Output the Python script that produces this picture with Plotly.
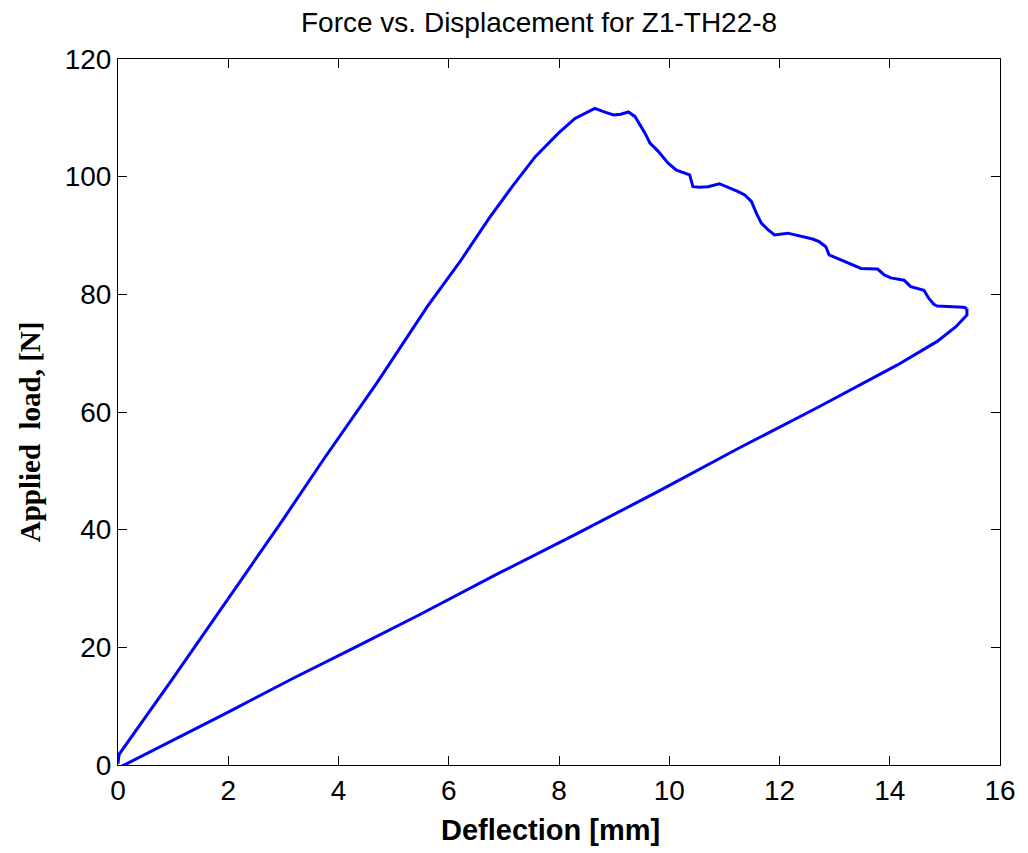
import plotly.graph_objects as go

# Loading branch (deflection mm, load N)
x_load = [0, 0.02, 0.97, 2.0, 3.0, 3.74, 4.7, 5.61, 6.2, 6.73, 7.15, 7.57, 7.99, 8.29, 8.47,
          8.65, 8.82, 8.99, 9.12, 9.26, 9.38, 9.47, 9.56, 9.65, 9.80, 9.98, 10.13, 10.37, 10.43,
          10.55, 10.70, 10.91, 11.12, 11.24, 11.37, 11.49, 11.58, 11.67, 11.79, 11.91, 12.15,
          12.39, 12.60, 12.72, 12.84, 12.90, 13.17, 13.48, 13.78, 13.90, 14.02, 14.26, 14.38,
          14.5, 14.62, 14.71, 14.8, 14.86, 15.1, 15.34, 15.40]
y_load = [0.2, 1.8, 14.4, 28.2, 41.8, 52.1, 65.0, 77.9, 85.5, 92.9, 98.3, 103.4, 107.4, 109.9, 110.8,
          111.6, 111.0, 110.5, 110.6, 111.0, 110.2, 108.9, 107.4, 105.7, 104.3, 102.3, 101.1, 100.3, 98.3,
          98.2, 98.3, 98.8, 98.0, 97.5, 96.9, 95.8, 93.8, 92.1, 91.0, 90.1, 90.4,
          89.8, 89.4, 88.95, 88.1, 86.7, 85.6, 84.4, 84.3, 83.3, 82.8, 82.4, 81.3,
          81.0, 80.7, 79.3, 78.3, 78.0, 77.9, 77.8, 77.6]

# Unloading branch
x_unload = [15.40, 15.40, 15.34, 15.2, 14.86, 14.14, 12.7, 11.25, 9.80, 8.3, 6.91, 5.46, 4.3,
            3.17, 2.0, 1.0, 0.4, 0.12, 0.05]
y_unload = [77.6, 76.5, 75.9, 74.5, 72.0, 68.0, 60.8, 53.8, 46.5, 39.2, 32.6, 25.5, 20.0,
            14.7, 9.0, 4.2, 1.4, 0.0, -0.3]

x_ticks = [0, 2, 4, 6, 8, 10, 12, 14, 16]
y_ticks = [0, 20, 40, 60, 80, 100, 120]

line_style = dict(color="#0000FF", width=3)

fig = go.Figure()
fig.add_trace(go.Scatter(x=x_load, y=y_load, mode="lines", line=line_style, showlegend=False))
fig.add_trace(go.Scatter(x=x_unload, y=y_unload, mode="lines", line=line_style, showlegend=False))

axis_common = dict(
    showgrid=False, zeroline=False, showline=True, linecolor="black", linewidth=1,
    mirror="ticks", ticks="inside", ticklen=9, tickcolor="black", tickwidth=1,
    tickfont=dict(family="Liberation Sans, Arial", size=28, color="black"),
)

# page body has an 8px margin: figure is 1020x845 placed at (8, 8)
W, H = 1020, 845
L, T, PW, PH = 110, 51, 885, 706
R, B = W - L - PW, H - T - PH


def px(xp):
    return (xp - 8 - L) / PW


def py(yp):
    return (H - (yp - 8) - B) / PH


fig.update_layout(
    width=W, height=H,
    margin=dict(l=L, r=R, t=T, b=B),
    paper_bgcolor="white", plot_bgcolor="white",
    xaxis=dict(range=[0, 16], tickvals=x_ticks, **axis_common),
    yaxis=dict(range=[0, 120], tickvals=y_ticks, **axis_common),
    annotations=[
        dict(text="Force vs. Displacement for Z1-TH22-8", xref="paper", yref="paper",
             x=px(540), y=py(23), xanchor="center", yanchor="middle",
             showarrow=False, font=dict(family="Liberation Sans, Arial", size=28, color="black")),
        dict(text="<b>Deflection [mm]</b>", xref="paper", yref="paper",
             x=px(552), y=py(830), xanchor="center", yanchor="middle",
             showarrow=False, font=dict(family="Liberation Sans, Arial", size=29, color="black")),
        dict(text="<b>Applied  load, [N]</b>", xref="paper", yref="paper", textangle=-90,
             x=px(30), y=py(432), xanchor="center", yanchor="middle",
             showarrow=False, font=dict(family="Liberation Serif, Times New Roman", size=29, color="black")),
    ],
)

fig.write_html("out.html")
